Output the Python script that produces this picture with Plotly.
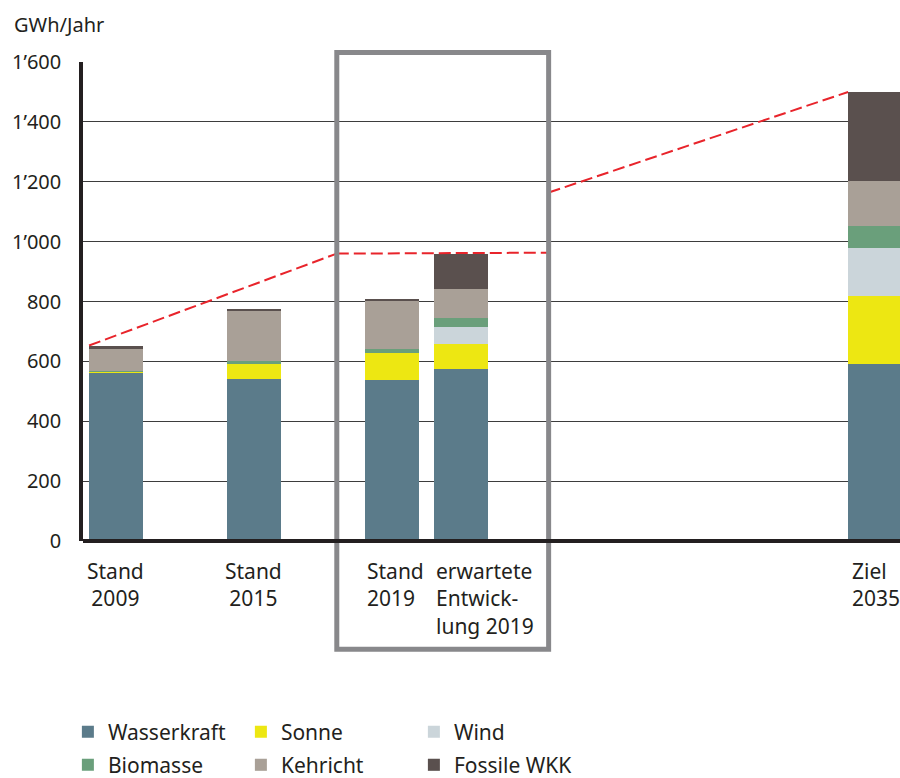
import plotly.graph_objects as go

# --- data -------------------------------------------------------------
categories = ["Stand 2009", "Stand 2015", "Stand 2019",
              "erwartete Entwicklung 2019", "Ziel 2035"]
category_labels = ["Stand<br>2009", "Stand<br>2015", "Stand<br>2019",
                   "erwartete<br>Entwick-<br>lung 2019", "Ziel<br>2035"]

wasserkraft = [564, 540, 539, 573, 590]
sonne = [3, 51, 90, 85, 229]
wind = [0, 0, 0, 58, 159]
biomasse = [2, 9, 11, 29, 74]
kehricht = [71, 168, 162, 97, 150]
fossile_wkk = [13, 8, 4, 116, 298]

# target path (GWh/Jahr) drawn as dashed red segments
target_start = [653, 960, 1164]
target_end = [960, 963, 1500]

y_tickvals = [0, 200, 400, 600, 800, 1000, 1200, 1400, 1600]
y_ticktext = ["0", "200", "400", "600", "800", "1’000", "1’200", "1’400", "1’600"]

# --- layout helpers ---------------------------------------------------
bar_pos = [0, 2, 4, 5, 11]          # x position of every category
bar_width = 0.78
half = bar_width / 2
x_range = [-0.478, 11.362]
box_x = [3.2, 6.27]                 # highlighted 2019 frame (axis units)

FONT = "Noto Sans, Open Sans, sans-serif"
TXT = "#231f20"

series = [
    ("Wasserkraft", wasserkraft, "#5b7b8a", "legend"),
    ("Sonne", sonne, "#ede712", "legend"),
    ("Wind", wind, "#cbd5da", "legend"),
    ("Biomasse", biomasse, "#6a9f7b", "legend2"),
    ("Kehricht", kehricht, "#a9a097", "legend2"),
    ("Fossile WKK", fossile_wkk, "#5a504e", "legend2"),
]

fig = go.Figure()
for name, vals, col, leg in series:
    fig.add_trace(go.Bar(
        x=bar_pos, y=vals, name=name, width=bar_width,
        marker=dict(color=col, line=dict(width=0)),
        legend=leg, customdata=categories,
        hovertemplate="%{customdata}<br>" + name + ": %{y}<extra></extra>",
    ))

# dashed target line
seg_x = [(bar_pos[0] - half, box_x[0]), (box_x[0], box_x[1]), (box_x[1], bar_pos[4] - half)]
for (x0, x1), y0, y1 in zip(seg_x, target_start, target_end):
    fig.add_trace(go.Scatter(
        x=[x0, x1], y=[y0, y1], mode="lines", showlegend=False, hoverinfo="skip",
        line=dict(color="#e8242b", width=2, dash="12px,5px"),
    ))


def to_paper(xv):
    return (xv - x_range[0]) / (x_range[1] - x_range[0])


shapes = [
    # frame around the 2019 columns
    dict(type="rect", xref="paper", yref="paper",
         x0=to_paper(box_x[0]), x1=to_paper(box_x[1]), y0=-0.226, y1=1.02,
         line=dict(color="#88888b", width=5), fillcolor="rgba(0,0,0,0)", layer="above"),
    # heavy base line
    dict(type="line", xref="paper", yref="paper", x0=0, x1=1, y0=0, y1=0,
         line=dict(color=TXT, width=4), layer="above"),
]

annotations = [
    dict(text="GWh/Jahr", xref="paper", yref="paper", x=-0.087, y=1.079,
         xanchor="left", yanchor="middle", showarrow=False,
         font=dict(family=FONT, size=20, color=TXT)),
]
for i, (pos, lab) in enumerate(zip(bar_pos, category_labels)):
    centred = i < 2
    annotations.append(dict(
        text=lab, xref="x", yref="paper",
        x=pos if centred else pos - half + (0.03 if i == 4 else 0),
        y=-0.03, xanchor="center" if centred else "left", yanchor="top",
        align="center" if centred else "left", showarrow=False,
        font=dict(family=FONT, size=21, color=TXT),
    ))

legend_common = dict(
    orientation="h", xanchor="left", yanchor="middle",
    x=-0.0185, entrywidth=128, entrywidthmode="pixels",
    traceorder="normal", bgcolor="rgba(0,0,0,0)",
    font=dict(family=FONT, size=21, color=TXT),
)

fig.update_layout(
    width=900, height=778,
    margin=dict(l=83, r=0, t=62, b=237, autoexpand=False),
    paper_bgcolor="white", plot_bgcolor="white",
    barmode="stack", bargap=0,
    font=dict(family=FONT, color=TXT),
    xaxis=dict(range=x_range, showticklabels=False, showgrid=False,
               zeroline=False, showline=False, ticks="", fixedrange=True),
    yaxis=dict(range=[0, 1600], tickvals=y_tickvals, ticktext=y_ticktext,
               showgrid=True, gridcolor="#3d3d3d", gridwidth=1,
               zeroline=False, showline=True, linecolor=TXT, linewidth=3.5,
               ticks="", ticklabelstandoff=14,
               tickfont=dict(family=FONT, size=20, color=TXT)),
    legend=dict(y=-0.3987, **legend_common),
    legend2=dict(y=-0.468, **legend_common),
    shapes=shapes,
    annotations=annotations,
    showlegend=True,
)

fig.write_html("out.html")
